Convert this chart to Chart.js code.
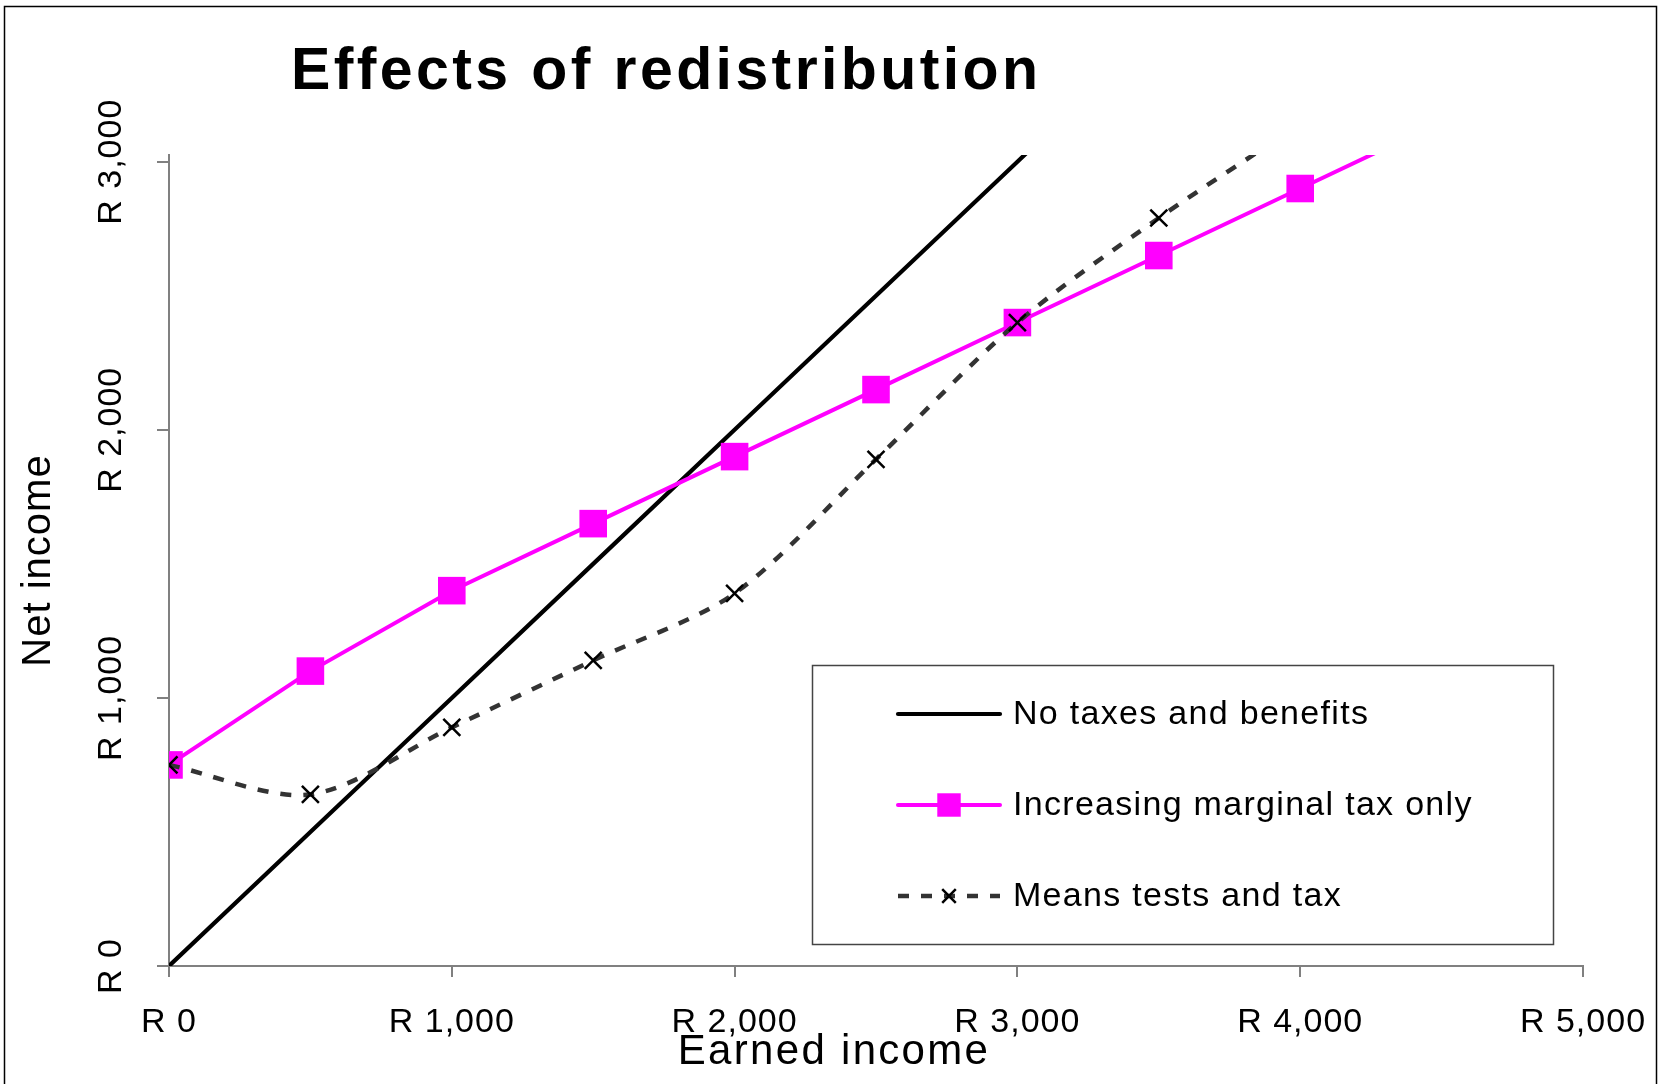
<!DOCTYPE html>
<html>
<head>
<meta charset="utf-8">
<script src="https://cdn.jsdelivr.net/npm/chart.js@4/dist/chart.umd.min.js"></script>
<style>
  html, body { margin: 0; padding: 0; background: #fff; overflow: hidden; }
  #grafico { display: block; }
</style>
</head>
<body>
<canvas id="grafico" width="1660" height="1084"></canvas>
<script>
  // dados
  const earned = [0, 500, 1000, 1500, 2000, 2500, 3000, 3500, 4000, 4500];
  const noTaxes = [0, 500, 1000, 1500, 2000, 2500, 3000, 3500, 4000, 4500];
  const marginalTax = [750, 1100, 1400, 1650, 1900, 2150, 2400, 2650, 2900, 3150];
  const meansTests = [750, 640, 890, 1140, 1390, 1890, 2400, 2790, 3140];
  const xTicks = [0, 1000, 2000, 3000, 4000, 5000];
  const yTicks = [0, 1000, 2000, 3000];
  const seriesNames = ["No taxes and benefits", "Increasing marginal tax only", "Means tests and tax"];
  const chartTitle = "Effects of redistribution";
  const xTitle = "Earned income";
  const yTitle = "Net income";

  const FONT = "'Liberation Sans', Arial, sans-serif";
  const rand = v => "R " + v.toLocaleString("en-US");
  const pontos = (ys) => ys.map((y, i) => ({ x: earned[i], y: y }));

  // textos extras, moldura e legenda
  const extras = {
    id: "extras",
    beforeDraw(chart) {
      chart.ctx.letterSpacing = "1px";
    },
    afterDraw(chart) {
      const ctx = chart.ctx;
      const yScale = chart.scales.y;
      ctx.save();

      // moldura externa
      ctx.strokeStyle = "#000";
      ctx.lineWidth = 1.5;
      ctx.strokeRect(4.5, 6.5, 1652, 1100);

      // título
      ctx.fillStyle = "#000";
      ctx.font = "bold 59px " + FONT;
      ctx.letterSpacing = "3.4px";
      ctx.textAlign = "left";
      ctx.textBaseline = "alphabetic";
      ctx.fillText(chartTitle, 291, 89);

      // rótulos do eixo y (rotacionados)
      ctx.font = "34px " + FONT;
      ctx.letterSpacing = "1px";
      ctx.textAlign = "center";
      yTicks.forEach(v => {
        const py = yScale.getPixelForValue(v);
        ctx.save();
        ctx.translate(121, py);
        ctx.rotate(-Math.PI / 2);
        ctx.fillText(rand(v), 0, 0);
        ctx.restore();
      });

      // título do eixo x
      ctx.font = "42px " + FONT;
      ctx.letterSpacing = "2.3px";
      ctx.fillText(xTitle, 834, 1064);

      // legenda
      const box = { l: 812, t: 665, r: 1553, b: 944 };
      ctx.strokeStyle = "#444";
      ctx.lineWidth = 1.5;
      ctx.strokeRect(box.l + 0.5, box.t + 0.5, box.r - box.l, box.b - box.t);
      const rows = [714, 805, 896];
      const x0 = 898, x1 = 1000, xm = (x0 + x1) / 2;
      chart.data.datasets.forEach((ds, i) => {
        const y = rows[i];
        ctx.save();
        ctx.strokeStyle = ds.borderColor;
        ctx.lineWidth = ds.borderWidth;
        ctx.lineCap = ds.borderDash ? "butt" : "round";
        ctx.setLineDash(ds.borderDash || []);
        ctx.beginPath();
        ctx.moveTo(x0, y);
        ctx.lineTo(x1, y);
        ctx.stroke();
        if (ds.pointRadius > 0) {
          ctx.setLineDash([]);
          ctx.fillStyle = ds.pointBackgroundColor;
          ctx.strokeStyle = ds.pointBorderColor;
          ctx.lineWidth = ds.pointBorderWidth || 1;
          Chart.helpers.drawPoint(ctx, {
            pointStyle: ds.pointStyle,
            radius: ds.pointStyle === "rect" ? ds.pointRadius * 0.85 : ds.pointRadius * 0.8,
            borderWidth: ds.pointBorderWidth,
            rotation: 0
          }, xm, y);
        }
        ctx.restore();
        ctx.fillStyle = "#000";
        ctx.font = "34px " + FONT;
        ctx.letterSpacing = "1.3px";
        ctx.textAlign = "left";
        ctx.textBaseline = "middle";
        ctx.fillText(seriesNames[i], 1013, y + 1);
      });

      ctx.restore();
    }
  };

  new Chart(document.getElementById("grafico"), {
    type: "line",
    data: {
      datasets: [
        {
          label: seriesNames[0],
          data: pontos(noTaxes),
          borderColor: "#000000",
          borderWidth: 4.2,
          pointRadius: 0,
          order: 3,
          tension: 0
        },
        {
          label: seriesNames[1],
          data: pontos(marginalTax),
          borderColor: "#FF00FF",
          borderWidth: 4,
          pointStyle: "rect",
          pointRadius: 19.5,
          pointBackgroundColor: "#FF00FF",
          pointBorderColor: "#FF00FF",
          pointBorderWidth: 0,
          order: 2,
          tension: 0
        },
        {
          label: seriesNames[2],
          data: pontos(meansTests),
          borderColor: "#333333",
          borderWidth: 4.5,
          borderDash: [11, 12],
          pointStyle: "crossRot",
          pointRadius: 12,
          pointBorderColor: "#000000",
          pointBackgroundColor: "#000000",
          pointBorderWidth: 2.5,
          order: 1,
          tension: 0.3
        }
      ]
    },
    options: {
      responsive: false,
      animation: false,
      devicePixelRatio: 1,
      layout: { padding: { top: 155, right: 77, bottom: 0, left: 0 } },
      plugins: {
        legend: { display: false },
        title: { display: false },
        tooltip: { enabled: false }
      },
      scales: {
        x: {
          type: "linear",
          min: 0,
          max: 5000,
          afterBuildTicks: s => { s.ticks = xTicks.map(v => ({ value: v })); },
          afterFit: s => { s.height = 118; s.paddingLeft = 0; s.paddingRight = 0; },
          grid: { drawOnChartArea: false, tickLength: 11, color: "#808080", lineWidth: 2 },
          border: { color: "#808080", width: 2 },
          ticks: {
            padding: 25,
            maxRotation: 0,
            color: "#000",
            font: { family: FONT, size: 34 },
            callback: v => rand(v)
          }
        },
        y: {
          type: "linear",
          min: 0,
          max: 3025,
          afterBuildTicks: s => { s.ticks = yTicks.map(v => ({ value: v })); },
          afterFit: s => { s.width = 169; },
          grid: { drawOnChartArea: false, tickLength: 12, color: "#808080", lineWidth: 2 },
          border: { color: "#808080", width: 2 },
          ticks: { display: false },
          title: {
            display: true,
            text: yTitle,
            color: "#000",
            font: { family: FONT, size: 40 },
            padding: { top: 15, bottom: 0 }
          }
        }
      }
    },
    plugins: [extras]
  });
</script>
</body>
</html>
